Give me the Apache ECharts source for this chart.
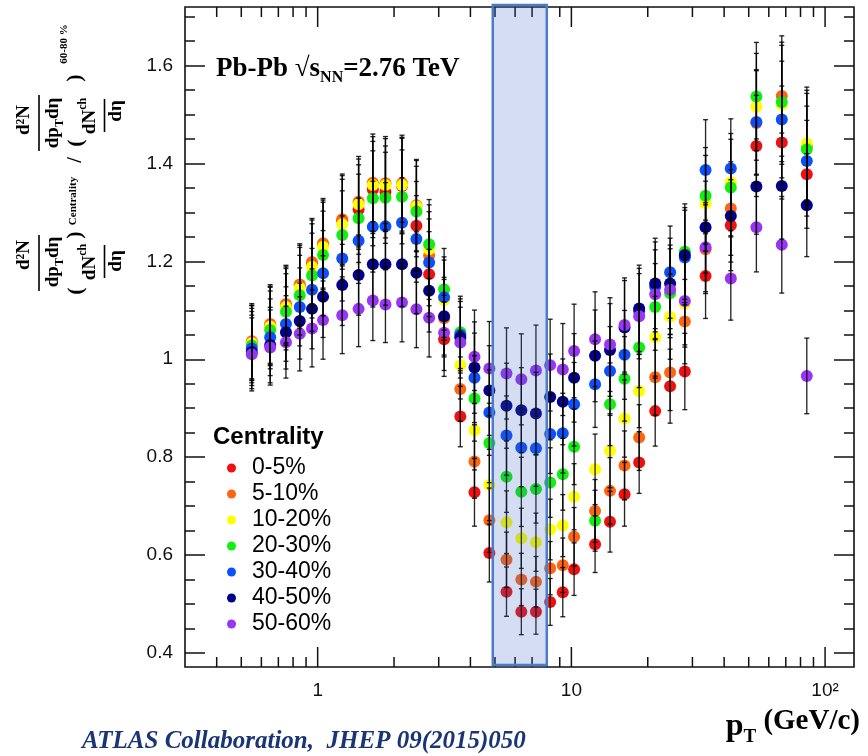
<!DOCTYPE html>
<html>
<head>
<meta charset="utf-8">
<script src="https://cdn.jsdelivr.net/npm/echarts@6/dist/echarts.min.js"></script>
<style>
  html, body { margin: 0; padding: 0; background: #ffffff; }
  #chart { width: 868px; height: 756px; }
</style>
</head>
<body>
<div id="chart"></div>
<script>
// pT bin centres (GeV/c)
const ptBins = [0.55, 0.65, 0.75, 0.85, 0.95, 1.05, 1.25, 1.45, 1.65, 1.85, 2.15, 2.45, 2.75, 3.15, 3.65,
  4.15, 4.75, 5.55, 6.35, 7.25, 8.25, 9.25, 10.25, 12.4, 14.2, 16.2, 18.5, 21.4, 24.5, 28.0,
  33.8, 42.5, 53.6, 67.5, 84.7];

// Yield ratio to the 60-80% class, per centrality class
const cent0to5 = [1.034, 1.069, 1.110, 1.150, 1.196, 1.234, 1.283, 1.306, 1.347, 1.342, 1.354, 1.273, 1.174, 1.041, 0.883,
  0.728, 0.604, 0.525, 0.484, 0.484, 0.504, 0.524, 0.571, 0.622, 0.668, 0.724, 0.789, 0.894, 0.945, 0.975,
  1.170, 1.274, 1.436, 1.443, 1.378];
const cent5to10 = [1.037, 1.072, 1.113, 1.153, 1.199, 1.237, 1.286, 1.322, 1.361, 1.360, 1.360, 1.315, 1.212, 1.084, 0.939,
  0.791, 0.671, 0.590, 0.550, 0.545, 0.573, 0.579, 0.637, 0.690, 0.731, 0.783, 0.840, 0.963, 0.973, 1.077,
  1.225, 1.308, 1.483, 1.538, 1.435];
const cent10to20 = [1.033, 1.067, 1.107, 1.146, 1.189, 1.230, 1.276, 1.317, 1.356, 1.356, 1.356, 1.313, 1.225, 1.121, 0.988,
  0.855, 0.743, 0.667, 0.634, 0.626, 0.652, 0.660, 0.719, 0.775, 0.813, 0.879, 0.935, 1.045, 1.087, 1.114,
  1.319, 1.362, 1.516, 1.520, 1.441];
const cent20to30 = [1.028, 1.060, 1.097, 1.131, 1.171, 1.213, 1.254, 1.288, 1.329, 1.330, 1.332, 1.302, 1.235, 1.143, 1.055,
  0.920, 0.829, 0.760, 0.729, 0.735, 0.748, 0.765, 0.821, 0.670, 0.908, 0.960, 1.024, 1.107, 1.135, 1.220,
  1.334, 1.351, 1.537, 1.526, 1.429];
const cent30to40 = [1.022, 1.045, 1.072, 1.107, 1.142, 1.176, 1.206, 1.242, 1.271, 1.272, 1.279, 1.246, 1.198, 1.127, 1.050,
  0.962, 0.891, 0.844, 0.819, 0.818, 0.847, 0.849, 0.908, 0.949, 0.976, 1.009, 1.098, 1.148, 1.178, 1.208,
  1.387, 1.390, 1.485, 1.490, 1.405];
const cent40to50 = [1.015, 1.029, 1.055, 1.078, 1.103, 1.128, 1.152, 1.172, 1.194, 1.194, 1.194, 1.177, 1.140, 1.088, 1.045,
  0.983, 0.936, 0.905, 0.896, 0.889, 0.923, 0.913, 0.962, 1.007, 1.019, 1.065, 1.104, 1.155, 1.155, 1.213,
  1.270, 1.293, 1.353, 1.354, 1.315];
const cent50to60 = [1.010, 1.024, 1.035, 1.052, 1.063, 1.080, 1.090, 1.103, 1.120, 1.112, 1.116, 1.102, 1.085, 1.054, 1.034,
  1.005, 0.981, 0.971, 0.959, 0.977, 0.988, 0.979, 1.017, 1.041, 1.030, 1.070, 1.088, 1.133, 1.142, 1.119,
  1.229, 1.165, 1.270, 1.234, 0.966];

// Relative uncertainty of each pT bin
const relErr = [0.074, 0.075, 0.071, 0.072, 0.074, 0.074, 0.072, 0.070, 0.073, 0.070, 0.072, 0.071, 0.074, 0.073, 0.070,
  0.095, 0.098, 0.096, 0.097, 0.095, 0.095, 0.096, 0.094, 0.093, 0.093, 0.090, 0.080, 0.080, 0.080, 0.080,
  0.074, 0.073, 0.072, 0.080, 0.080];

const centralityNames = ['0-5%', '5-10%', '10-20%', '20-30%', '30-40%', '40-50%', '50-60%'];
const centralityValues = [cent0to5, cent5to10, cent10to20, cent20to30, cent30to40, cent40to50, cent50to60];

// Axis ticks
const xMajorTicks = [1, 10, 100];
const xTickLabels = ['1', '10', '10²'];
const xMinorTicks = [0.4, 0.5, 0.6, 0.7, 0.8, 0.9, 2, 3, 4, 5, 6, 7, 8, 9, 20, 30, 40, 50, 60, 70, 80, 90];
const yMajorTicks = [0.4, 0.6, 0.8, 1.0, 1.2, 1.4, 1.6];
const yMinorTicks = [0.45, 0.5, 0.55, 0.65, 0.7, 0.75, 0.85, 0.9, 0.95, 1.05, 1.1, 1.15,
  1.25, 1.3, 1.35, 1.45, 1.5, 1.55, 1.65, 1.7];

// Shaded pT window (GeV/c)
const highlightRange = [4.9, 8.0];

const xRange = [0.3, 130];
const yRange = [0.371, 1.72];

const markerColors = ['#f01010', '#ff6410', '#ffff00', '#10f010', '#0a50ff', '#00008c', '#9a35f5'];
const SANS = '"Liberation Sans", Arial, Helvetica, sans-serif';
const SERIF = '"Liberation Serif", "Times New Roman", serif';
const INK = '#111111';

const chart = echarts.init(document.getElementById('chart'), null, { renderer: 'canvas' });

function yAxisDef(position, ticks, len, withLabels) {
  return {
    type: 'value', position: position, min: yRange[0], max: yRange[1],
    axisLine: { show: false },
    splitLine: { show: false },
    axisTick: { show: true, inside: true, length: len, customValues: ticks,
      lineStyle: { color: INK, width: 1.5 } },
    axisLabel: withLabels ? {
      show: true, customValues: ticks, margin: 12,
      fontFamily: SANS, fontSize: 19, color: INK,
      formatter: v => (Math.abs(v - 1) < 1e-9 ? '1' : v.toFixed(1))
    } : { show: false }
  };
}

// x-axis tick marks on both frame edges, placed through the log scale
function xTickSeries(ticks, len, labels) {
  return {
    type: 'custom', silent: true, z: 6, clip: false,
    data: ticks.map(v => [v, 1]),
    encode: { x: 0, y: 1 },
    renderItem: function (params, api) {
      const cs = params.coordSys;
      const px = api.coord([api.value(0), 1])[0];
      const bottom = cs.y + cs.height;
      const children = [
        { type: 'line', shape: { x1: px, y1: bottom, x2: px, y2: bottom - len },
          style: { stroke: INK, lineWidth: 1.5 } },
        { type: 'line', shape: { x1: px, y1: cs.y, x2: px, y2: cs.y + len },
          style: { stroke: INK, lineWidth: 1.5 } }
      ];
      if (labels) {
        children.push({ type: 'text', x: px, y: bottom + 24,
          style: { text: labels[params.dataIndex], fill: INK, font: '19px ' + SANS,
            align: 'center', verticalAlign: 'middle', textAlign: 'center', textVerticalAlign: 'middle' } });
      }
      return { type: 'group', children: children };
    }
  };
}

function errorBarSeries(values, name) {
  return {
    type: 'custom', name: name + ' err', silent: true, z: 4,
    data: values.map((v, i) => [ptBins[i], v * (1 - relErr[i]), v * (1 + relErr[i])]),
    encode: { x: 0, y: [1, 2] },
    renderItem: function (params, api) {
      const lo = api.coord([api.value(0), api.value(1)]);
      const hi = api.coord([api.value(0), api.value(2)]);
      const cap = 2.5;
      const st = { stroke: 'rgba(0,0,0,0.85)', lineWidth: 1.35 };
      return { type: 'group', children: [
        { type: 'line', shape: { x1: lo[0], y1: lo[1], x2: hi[0], y2: hi[1] }, style: st },
        { type: 'line', shape: { x1: lo[0] - cap, y1: lo[1], x2: lo[0] + cap, y2: lo[1] }, style: st },
        { type: 'line', shape: { x1: hi[0] - cap, y1: hi[1], x2: hi[0] + cap, y2: hi[1] }, style: st }
      ] };
    }
  };
}

const series = [];
centralityValues.forEach((vals, k) => {
  series.push({
    type: 'scatter', name: centralityNames[k], symbol: 'circle', symbolSize: 12, z: 3,
    itemStyle: { color: markerColors[k], opacity: 1 },
    data: vals.map((v, i) => [ptBins[i], v])
  });
});
centralityValues.forEach((vals, k) => series.push(errorBarSeries(vals, centralityNames[k])));

// Shaded window drawn over the markers
series.push({
  type: 'custom', silent: true, z: 8, clip: false,
  data: [[highlightRange[0], highlightRange[1], 1]],
  encode: { x: [0, 1], y: 2 },
  renderItem: function (params, api) {
    const cs = params.coordSys;
    const x0 = api.coord([api.value(0), 1])[0];
    const x1 = api.coord([api.value(1), 1])[0];
    return { type: 'rect', shape: { x: x0, y: cs.y - 2, width: x1 - x0, height: cs.height },
      style: { fill: 'rgba(60,100,190,0.22)', stroke: '#4a7cc9', lineWidth: 2.5 } };
  }
});
series.push(xTickSeries(xMajorTicks, 20, xTickLabels));
series.push(xTickSeries(xMinorTicks, 10, null));

// Rotated y-axis title pieces
function rtext(text, x, y, size) {
  return {
    type: 'text', x: x, y: y, rotation: Math.PI / 2, silent: true,
    style: { text: text, fill: '#000', font: 'bold ' + size + 'px ' + SERIF,
      align: 'center', verticalAlign: 'middle', textAlign: 'center', textVerticalAlign: 'middle' }
  };
}
function richRot(x, y, tokens) {
  return {
    type: 'text', x: x, y: y, rotation: Math.PI / 2, silent: true,
    style: {
      text: tokens, fill: '#000', align: 'center', verticalAlign: 'middle',
      textAlign: 'center', textVerticalAlign: 'middle',
      rich: {
        m: { fontFamily: SERIF, fontWeight: 'bold', fontSize: 19, lineHeight: 26, verticalAlign: 'middle' },
        sub: { fontFamily: SERIF, fontWeight: 'bold', fontSize: 12, lineHeight: 26, verticalAlign: 'bottom' },
        sup: { fontFamily: SERIF, fontWeight: 'bold', fontSize: 12, lineHeight: 26, verticalAlign: 'top' }
      }
    }
  };
}
function vbar(x, y0, y1) {
  return { type: 'rect', silent: true, shape: { x: x - 0.8, y: y0, width: 1.6, height: y1 - y0 }, style: { fill: '#000' } };
}
// one ratio block: d2N/(dpT deta) over (dNch/deta); p = centre positions along the vertical
function titleBlock(p) {
  return [
    rtext('d²N', 24, p.num, 19),
    vbar(39, p.bar[0], p.bar[1]),
    richRot(53, p.den, '{m|dp}{sub|T}{m|dη}'),
    rtext('(', 76, p.open, 22),
    richRot(90, p.nch, '{m|dN}{sup|ch}'),
    vbar(104.5, p.bar2[0], p.bar2[1]),
    rtext('dη', 116, p.eta, 19)
  ];
}
const yTitle = [].concat(
  titleBlock({ num: 255, bar: [235, 291], den: 262, open: 291, nch: 262, bar2: [245, 278], eta: 261 }),
  [rtext(')', 75, 235, 22), rtext('Centrality', 73, 201, 11)],
  [rtext('/', 76, 160, 20)],
  titleBlock({ num: 120, bar: [95, 151], den: 123, open: 143, nch: 116, bar2: [99, 132], eta: 111 }),
  [rtext(')', 75, 78, 22), rtext('60-80 %', 64, 44, 11)]
);

const option = {
  backgroundColor: '#ffffff',
  animation: false,
  grid: { left: 185, right: 14, top: 7, bottom: 89, show: true, borderColor: INK, borderWidth: 1.6,
    backgroundColor: 'transparent' },
  xAxis: {
    type: 'log', logBase: 10, min: xRange[0], max: xRange[1],
    axisLine: { show: false }, axisTick: { show: false }, axisLabel: { show: false },
    splitLine: { show: false }, minorTick: { show: false }
  },
  yAxis: [
    yAxisDef('left', yMajorTicks, 20, true),
    yAxisDef('left', yMinorTicks, 10, false),
    yAxisDef('right', yMajorTicks, 20, false),
    yAxisDef('right', yMinorTicks, 10, false)
  ],
  legend: {
    data: centralityNames, orient: 'vertical', left: 222, top: 450,
    icon: 'circle', itemWidth: 9, itemHeight: 9, itemGap: 0,
    textStyle: { fontFamily: SANS, fontSize: 23, color: '#000', lineHeight: 26, padding: [0, 0, 0, 11] },
    selectedMode: false
  },
  series: series,
  graphic: [
    { type: 'text', left: 213, top: 425, silent: true,
      style: { text: 'Centrality', fill: '#000', font: 'bold 24px ' + SANS } },
    { type: 'text', left: 216, top: 56, silent: true,
      style: {
        text: '{m|Pb-Pb √s}{s|NN}{m|=2.76 TeV}',
        rich: {
          m: { fontFamily: SERIF, fontWeight: 'bold', fontSize: 27, lineHeight: 32, verticalAlign: 'middle', fill: '#000' },
          s: { fontFamily: SERIF, fontWeight: 'bold', fontSize: 16, lineHeight: 32, verticalAlign: 'bottom', fill: '#000' }
        }
      } },
    { type: 'text', right: 8, top: 707, silent: true,
      style: {
        text: '{p|p}{t|T}{g| (GeV/c)}',
        rich: {
          p: { fontFamily: SERIF, fontWeight: 'bold', fontSize: 32, lineHeight: 40, verticalAlign: 'middle', fill: '#000' },
          t: { fontFamily: SERIF, fontWeight: 'bold', fontSize: 19, lineHeight: 40, verticalAlign: 'bottom', fill: '#000' },
          g: { fontFamily: SERIF, fontWeight: 'bold', fontSize: 29, lineHeight: 40, verticalAlign: 'top', fill: '#000' }
        }
      } },
    { type: 'text', left: 82, top: 729, silent: true,
      style: { text: 'ATLAS Collaboration,  JHEP 09(2015)050', fill: '#1a3575',
        font: 'italic bold 25px ' + SERIF } }
  ].concat(yTitle)
};

chart.setOption(option);
</script>
</body>
</html>
